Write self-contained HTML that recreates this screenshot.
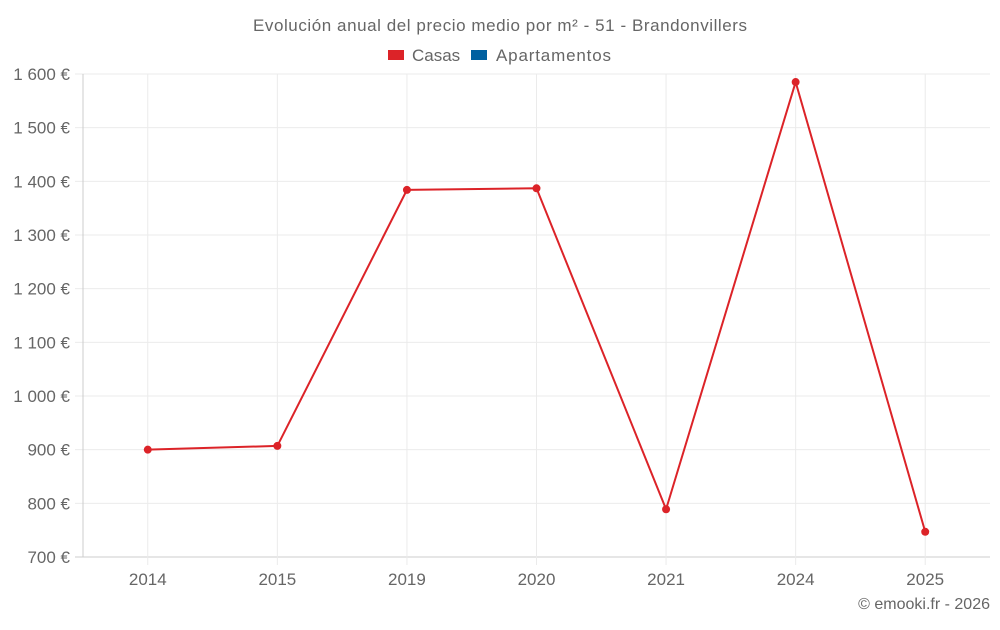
<!DOCTYPE html>
<html><head><meta charset="utf-8"><style>
body{margin:0;background:#fff;font-family:"Liberation Sans",sans-serif;}
svg text{font-family:"Liberation Sans",sans-serif;}
</style></head><body>
<svg id="chart" width="1000" height="625">
<text x="500" y="31" text-anchor="middle" font-size="17" fill="#666" textLength="494">Evolución anual del precio medio por m² - 51 - Brandonvillers</text>
<g>
<rect x="388" y="50" width="16" height="10" fill="#dc2328"/>
<text x="412" y="61" font-size="17" fill="#666">Casas</text>
<rect x="471" y="50" width="16" height="10" fill="#0060a0"/>
<text x="496" y="61" font-size="17" fill="#666" textLength="115">Apartamentos</text>
</g>
<g id="grid"></g><g id="axes"></g><g id="series"></g>
<text x="990" y="609" text-anchor="end" font-size="16" fill="#666">© emooki.fr - 2026</text>
</svg>
<script>
const categories=["2014","2015","2019","2020","2021","2024","2025"];
const casas=[900,907,1384,1387,789,1585,747];
const yTicks=[700,800,900,1000,1100,1200,1300,1400,1500,1600];
const tickLabels=["700 €","800 €","900 €","1 000 €","1 100 €","1 200 €","1 300 €","1 400 €","1 500 €","1 600 €"];
const L=83,R=990,T=74,B=557,yMin=700,yMax=1600;
const ns="http://www.w3.org/2000/svg";
function y(v){return B-(v-yMin)/(yMax-yMin)*(B-T);}
function x(i){const w=(R-L)/categories.length;return L+w*(i+0.5);}
function mk(t,a,p){const e=document.createElementNS(ns,t);for(const k in a)e.setAttribute(k,a[k]);p.appendChild(e);return e;}
const g=document.getElementById('grid'),ax=document.getElementById('axes'),s=document.getElementById('series');
yTicks.forEach((v,i)=>{
 const ln=mk('line',{x1:75,x2:R,y1:y(v),y2:y(v),stroke:i==0?'#ccc':'#ebebeb','stroke-width':1},g);
 
 
 const t=mk('text',{x:70,y:y(v)+6,'text-anchor':'end','font-size':17,fill:'#666'},ax);
 t.textContent=tickLabels[i];
 
 
});
categories.forEach((c,i)=>{
 const ln=mk('line',{x1:x(i),x2:x(i),y1:T,y2:B+8,stroke:'#ebebeb','stroke-width':1},g);
 
 
 const t=mk('text',{x:x(i),y:585,'text-anchor':'middle','font-size':17,fill:'#666'},ax);
 t.textContent=c;
 
 
});
const yl=mk('line',{x1:L,x2:L,y1:T,y2:B,stroke:'#ccc'},ax);


const pl=mk('polyline',{points:casas.map((v,i)=>x(i)+','+y(v)).join(' '),fill:'none',stroke:'#dc2328','stroke-width':2},s);


casas.forEach((v,i)=>{
 const c=mk('circle',{cx:x(i),cy:y(v),r:4,fill:'#dc2328'},s);
 
 
});
</script>
</body></html>
